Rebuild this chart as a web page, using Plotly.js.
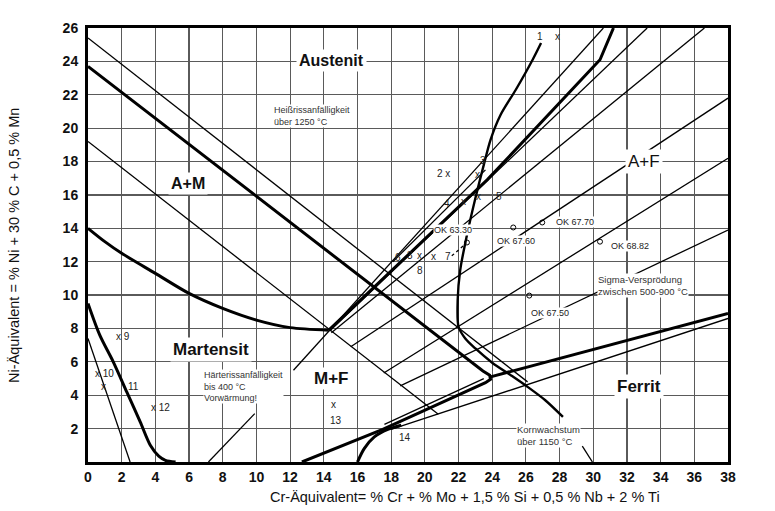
<!DOCTYPE html>
<html>
<head>
<meta charset="utf-8">
<script src="https://cdn.plot.ly/plotly-3.0.1.min.js"></script>
<style>html,body{margin:0;padding:0;background:#fff;}#chart{width:775px;height:511px;}</style>
</head>
<body>
<div id="chart"></div>
<script>
// ---- axis ticks ----
const xTicks = [0,2,4,6,8,10,12,14,16,18,20,22,24,26,28,30,32,34,36,38];
const yTicks = [2,4,6,8,10,12,14,16,18,20,22,24,26];

// ---- boundary lines (Cr-equivalent, Ni-equivalent) ----
const upperThinX = [0, 26.1];            const upperThinY = [25.4, 4.8];
const amBoundX = [0, 23.45, 23.85, 23.9, 23.6, 17.5, 12.7];
const amBoundY = [23.7, 5.45, 5.2, 4.95, 4.75, 1.95, 0];
const lowerThinX = [0, 20.8];            const lowerThinY = [19.2, 2.86];
const cornerThinX = [17.6, 23.5];        const cornerThinY = [2.25, 5.0];
const ferrit100X = [23.9, 38];           const ferrit100Y = [5.1, 8.9];
const ferrit100bX = [18.0, 38];          const ferrit100bY = [1.95, 8.6];
const kCurveX = [16.0, 16.4, 17.0, 17.8, 18.6]; const kCurveY = [0, 0.8, 1.5, 1.95, 2.2];
const martX = [0, 1, 2, 4, 6, 8, 10, 12, 14.3];
const martY = [14, 13.2, 12.5, 11.3, 10.1, 9.2, 8.5, 8.05, 7.9];
const fmX = [0, 0.7, 1.5, 2.3, 3.1, 3.7, 4.2, 4.6, 5.2];
const fmY = [9.5, 7.6, 6.0, 4.2, 2.4, 1.0, 0.35, 0.1, 0];
const fmThinX = [0, 2.5];                const fmThinY = [7.4, 0];
const ferrit0X = [14.3, 23.7, 30.4, 31.2]; const ferrit0Y = [7.9, 16.9, 24.1, 26];
const steepThinX = [12.2, 30.6];         const steepThinY = [5.5, 26];
const ferrit5X = [14.35, 33.2];          const ferrit5Y = [7.85, 26];
const ferrit10X = [14.45, 36.6];         const ferrit10Y = [7.75, 26];
const ferrit20X = [15.6, 38];            const ferrit20Y = [6.9, 21.8];
const ferrit40X = [17.56, 38];           const ferrit40Y = [5.33, 18.2];
const ferrit80X = [18.54, 38];           const ferrit80Y = [4.56, 13.9];
const kornX = [26.9, 26.4, 25.4, 24.5, 23.9, 23.5, 23.0, 22.5, 22.1, 21.95, 22.0, 22.4, 23.0, 24.0, 25.1, 26.1, 27.15, 28.2];
const kornY = [25.1, 24.1, 22.3, 20.8, 19.3, 17.8, 15.8, 13.6, 11.5, 9.7, 8.1, 7.4, 6.8, 5.95, 5.2, 4.5, 3.7, 2.7];
const tie63X = [18.1, 23.6];             const tie63Y = [12.0, 17.5];
const dash7X = [21.6, 22.45];            const dash7Y = [12.35, 13.1];
const vorwPtrX = [7.15, 9.9];            const vorwPtrY = [0, 2.9];
const kornPtrX = [29.35, 29.95];         const kornPtrY = [0.95, 0];

// ---- weld consumables (OK) ----
const okX = [22.5, 25.25, 26.97, 30.4, 26.2];
const okY = [13.15, 14.05, 14.35, 13.2, 9.97];
const okNames = ['OK 63.30', 'OK 67.60', 'OK 67.70', 'OK 68.82', 'OK 67.50'];
const okLabelX = [21.7, 25.4, 28.9, 32.2, 27.45];
const okLabelY = [13.9, 13.25, 14.4, 12.95, 8.95];

// ---- numbered points ----
const ptText = ['1','x','2 x','3','x','4','x','x','5','6','3','x','x','7','8','x 9','x 10','x','11','x 12','x','13','14'];
const ptX = [26.85,27.85,21.1,23.47,23.1,21.33,22.3,23.2,24.4,18.4,19.1,19.7,20.5,21.4,19.7,2.05,0.95,0.92,2.7,4.3,14.6,14.75,18.85];
const ptY = [25.5,25.5,17.3,18.05,17.2,15.5,15.6,15.9,15.9,12.25,12.4,12.4,12.3,12.3,11.5,7.5,5.3,4.5,4.5,3.26,3.44,2.5,1.47];

const THICK = 3, THIN = 1.3;
function ln(x, y, w, dash) {
  return {x: x, y: y, type: 'scatter', mode: 'lines', hoverinfo: 'skip', showlegend: false,
          line: {color: '#000', width: w, dash: dash || 'solid', shape: 'linear'}};
}
function sp(x, y, w) {
  const t = ln(x, y, w); t.line.shape = 'spline'; t.line.smoothing = 0.8; return t;
}
const traces = [
  ln(upperThinX, upperThinY, THIN),
  ln(amBoundX, amBoundY, THICK),
  ln(lowerThinX, lowerThinY, THIN),
  ln(cornerThinX, cornerThinY, THIN),
  ln(ferrit100X, ferrit100Y, THICK),
  ln(ferrit100bX, ferrit100bY, THIN),
  sp(kCurveX, kCurveY, THICK),
  sp(martX, martY, THICK),
  sp(fmX, fmY, THICK),
  ln(fmThinX, fmThinY, THIN),
  ln(ferrit0X, ferrit0Y, THICK),
  ln(steepThinX, steepThinY, THIN),
  ln(ferrit5X, ferrit5Y, THIN),
  ln(ferrit10X, ferrit10Y, THIN),
  ln(ferrit20X, ferrit20Y, THIN),
  ln(ferrit40X, ferrit40Y, THIN),
  ln(ferrit80X, ferrit80Y, THIN),
  sp(kornX, kornY, 2.4),
  ln(tie63X, tie63Y, THIN),
  ln(dash7X, dash7Y, THIN, 'dot'),
  ln(vorwPtrX, vorwPtrY, THIN),
  ln(kornPtrX, kornPtrY, THIN),
  {x: okX, y: okY, type: 'scatter', mode: 'markers', hoverinfo: 'skip', showlegend: false,
   marker: {symbol: 'circle-open', size: 5, color: '#000', line: {width: 1}}}
];

const FONT = 'Liberation Sans, Arial, Helvetica, sans-serif';
const anns = [];
function ann(text, x, y, size, opts) {
  const o = Object.assign({text: text, x: x, y: y, xref: 'x', yref: 'y', showarrow: false,
    font: {family: FONT, size: size, color: '#111'}, bgcolor: 'rgba(0,0,0,0)', borderpad: 0}, opts || {});
  if (opts && opts.weight) { o.font.weight = opts.weight; delete o.weight; }
  if (opts && opts.color) { o.font.color = opts.color; delete o.color; }
  anns.push(o);
}
// region labels
ann('Austenit', 14.45, 24.05, 16, {weight: 'bold', bgcolor: '#fff', borderpad: 2});
ann('A+M', 5.96, 16.7, 16, {weight: 'bold', bgcolor: '#fff', borderpad: 2});
ann('Martensit', 7.3, 6.75, 17, {weight: 'bold', bgcolor: '#fff', borderpad: 2});
ann('M+F', 14.45, 5.0, 17, {weight: 'bold', bgcolor: '#fff', borderpad: 1});
ann('A+F', 33.0, 18.0, 17, {bgcolor: '#fff', borderpad: 2});
ann('Ferrit', 32.7, 4.55, 17, {weight: 'bold', bgcolor: '#fff', borderpad: 2});
// small notes
ann('Heißrissanfälligkeit<br>über 1250 °C', 11.0, 20.7, 9, {xanchor: 'left', align: 'left', bgcolor: '#fff', color: '#333'});
ann('Härterissanfälligkeit<br>bis 400 °C<br>Vorwärmung!', 6.85, 4.5, 9, {xanchor: 'left', align: 'left', bgcolor: '#fff', color: '#333'});
ann('Sigma-Versprödung<br>zwischen 500-900 °C', 30.2, 10.6, 9.5, {xanchor: 'left', align: 'left', bgcolor: '#fff', color: '#333'});
ann('Kornwachstum<br>über 1150 °C', 25.4, 1.6, 9.5, {xanchor: 'left', align: 'left', bgcolor: '#fff', color: '#333'});
// ferrite % labels
ann('0 %', 31.0, 26.85, 13, {weight: 'bold'});
ann('5 %', 33.8, 26.85, 13, {weight: 'bold'});
ann('10 %', 37.2, 26.85, 13, {weight: 'bold'});
ann('20 %', 38.3, 21.85, 13, {weight: 'bold', xanchor: 'left'});
ann('40 %', 38.3, 18.25, 13, {weight: 'bold', xanchor: 'left'});
ann('80 %', 38.3, 13.95, 13, {weight: 'bold', xanchor: 'left'});
ann('100 %', 38.3, 8.65, 13, {weight: 'bold', xanchor: 'left'});
// OK labels
for (let i = 0; i < okNames.length; i++) ann(okNames[i], okLabelX[i], okLabelY[i], 9, {bgcolor: '#fff', color: '#222'});
// numbered points
for (let i = 0; i < ptText.length; i++) ann(ptText[i], ptX[i], ptY[i], 10, {color: '#222'});
// axis titles
anns.push({text: 'Cr-Äquivalent= % Cr + % Mo + 1,5 % Si + 0,5 % Nb + 2 % Ti', xref: 'paper', yref: 'paper',
  x: 0.589, y: -0.08, yanchor: 'middle', showarrow: false, font: {family: FONT, size: 14.5, color: '#111'}});
anns.push({text: 'Ni-Äquivalent = % Ni + 30 % C + 0,5 % Mn', xref: 'paper', yref: 'paper',
  x: -0.1156, y: 0.498, xanchor: 'center', yanchor: 'middle', textangle: -90, showarrow: false,
  font: {family: FONT, size: 14.5, color: '#111'}});

const axisCommon = {showline: true, linecolor: '#000', linewidth: 3, mirror: true, showgrid: true,
  gridcolor: '#5a5a5a', gridwidth: 1.2, zeroline: false, ticks: '', fixedrange: true,
  tickfont: {family: FONT, size: 14, color: '#111', weight: 'bold'}};
const layout = {
  width: 775, height: 511, margin: {l: 88, r: 47, t: 28, b: 49},
  paper_bgcolor: '#fff', plot_bgcolor: '#fff', showlegend: false,
  xaxis: Object.assign({}, axisCommon, {range: [0, 38], tickmode: 'array', tickvals: xTicks, ticktext: xTicks.map(String)}),
  yaxis: Object.assign({}, axisCommon, {range: [0, 26], tickmode: 'array', tickvals: yTicks, ticktext: yTicks.map(String), ticklabelstandoff: 4}),
  annotations: anns
};
Plotly.newPlot('chart', traces, layout, {staticPlot: true, displayModeBar: false});
</script>
</body>
</html>
